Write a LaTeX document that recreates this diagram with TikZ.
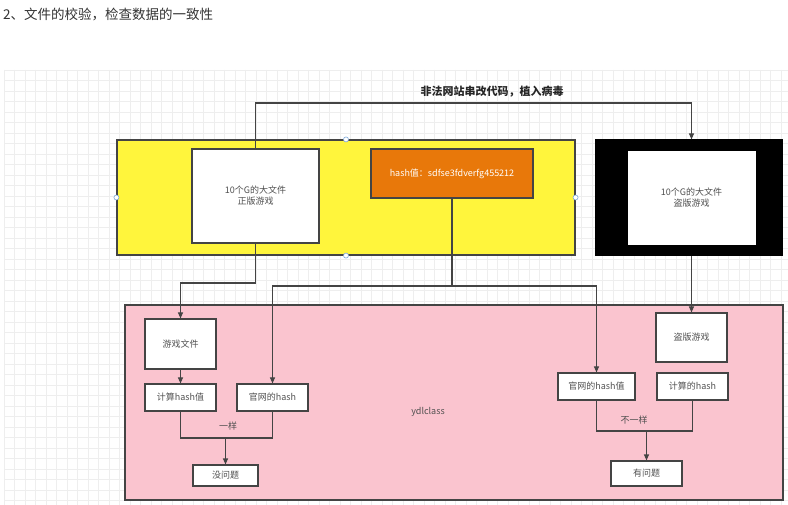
\documentclass[tikz,border=0pt]{standalone}
\usepackage{fontspec}
\setmainfont{Noto Sans CJK SC}
\usetikzlibrary{arrows.meta}
\definecolor{ln}{HTML}{444444}
\definecolor{tx}{HTML}{505050}
\definecolor{yel}{RGB}{255,245,60}
\definecolor{pnk}{RGB}{250,196,207}
\definecolor{org}{RGB}{232,120,10}
\definecolor{grd}{HTML}{EEEEEE}
\definecolor{hdl}{HTML}{7FA9D8}
\tikzset{
  bx/.style={draw=ln, line width=1.1pt, fill=white, inner sep=0pt, text=tx, font=\fontsize{9}{11}\selectfont, align=center},
  area/.style={draw=ln, line width=1.1pt, inner sep=0pt},
  conn/.style={draw=ln, line width=1.1pt},
  arr/.style={conn, -{Triangle[length=6pt,width=5pt]}},
  lbl/.style={text=tx, font=\fontsize{9}{11}\selectfont, inner sep=0pt},
  hnd/.style={circle, draw=hdl, fill=white, line width=0.6pt, minimum size=5pt, inner sep=0pt}
}
\begin{document}
\begin{tikzpicture}[x=1pt,y=-1pt]
\useasboundingbox (0,0) rectangle (788,505);
\fill[white] (0,0) rectangle (788,505);
% grid
\foreach \i in {0,...,74} {\draw[grd, line width=0.5pt] (4+10.5*\i,70) -- (4+10.5*\i,505);}
\foreach \j in {0,...,41} {\draw[grd, line width=0.5pt] (4,70+10.5*\j) -- (788,70+10.5*\j);}
% title
\node[anchor=west, inner sep=0pt, text=black!80, font=\fontsize{13.5}{16}\selectfont] (title) at (3,15) {2、文件的校验，检查数据的一致性};
% areas
\node[area, fill=yel, minimum width=458pt, minimum height=115pt] (yellow) at (346,197.5) {};
\node[area, fill=black, draw=black, minimum width=186pt, minimum height=115pt] (black) at (689,197.5) {};
\node[area, fill=pnk, minimum width=658pt, minimum height=195pt] (pink) at (454,402.5) {};
\node[lbl] (ydl) at (428,412) {ydlclass};
% top boxes
\node[bx, minimum width=127pt, minimum height=94pt] (orig) at (255.5,196) {10个G的大文件\\正版游戏};
\node[bx, fill=org, text=white, minimum width=162pt, minimum height=49pt] (hash) at (452,173.5) {hash值：sdfse3fdverfg455212};
\node[bx, draw=white, line width=0.4pt, minimum width=127pt, minimum height=93pt] (pirate) at (691.5,197.5) {10个G的大文件\\盗版游戏};
% handles
\node[hnd] (h1) at (yellow.north) {};
\node[hnd] (h2) at (yellow.south) {};
\node[hnd] (h3) at (yellow.west) {};
\node[hnd] (h4) at (yellow.east) {};
% label
\node[inner sep=0pt, text=black!85, font=\bfseries\fontsize{11}{13}\selectfont] (virus) at (492,92) {非法网站串改代码，植入病毒};
% left flow
\node[bx, minimum width=71pt, minimum height=50pt] (game) at (180.5,344) {游戏文件};
\node[bx, minimum width=71pt, minimum height=27pt] (calc1) at (180.5,397.5) {计算hash值};
\node[bx, minimum width=71pt, minimum height=27pt] (gw1) at (272.5,397.5) {官网的hash};
\node[bx, minimum width=65pt, minimum height=21pt] (ok) at (225.5,475.5) {没问题};
% right flow
\node[bx, minimum width=71pt, minimum height=49pt] (dao) at (691.5,337.5) {盗版游戏};
\node[bx, minimum width=77pt, minimum height=27pt] (gw2) at (596.5,386.5) {官网的hash值};
\node[bx, minimum width=71pt, minimum height=27pt] (calc2) at (692.5,386.5) {计算的hash};
\node[bx, minimum width=71pt, minimum height=25pt] (bad) at (646.5,473.5) {有问题};
% coordinates
\coordinate (t1) at (255.5,103);
\coordinate (j1) at (255.5,283);
\coordinate (j2) at (452,286);
\coordinate (m1a) at (180.5,438);
\coordinate (m1) at (225.5,438);
\coordinate (m2a) at (596.5,431);
\coordinate (m2) at (646.5,431);
% connectors
\draw[arr] (orig.north) -- (t1) -| (pirate.north |- black.north);
\draw[arr] (orig.south) -- (j1) -| (game.north);
\draw[conn] (hash.south) -- (j2);
\draw[arr] (j2) -| (gw1.north);
\draw[arr] (j2) -| (gw2.north);
\draw[arr] (game.south) -- (calc1.north);
\draw[conn] (calc1.south) -- (m1a) -| (gw1.south);
\draw[arr] (m1) -- (ok.north);
\node[lbl] (same) at (228,426) {一样};
\draw[arr] (pirate.south |- black.south) -- (dao.north);
\draw[conn] (gw2.south) -- (m2a) -| (calc2.south);
\draw[arr] (m2) -- (bad.north);
\node[lbl] (diff) at (634,420) {不一样};
\end{tikzpicture}
\end{document}
